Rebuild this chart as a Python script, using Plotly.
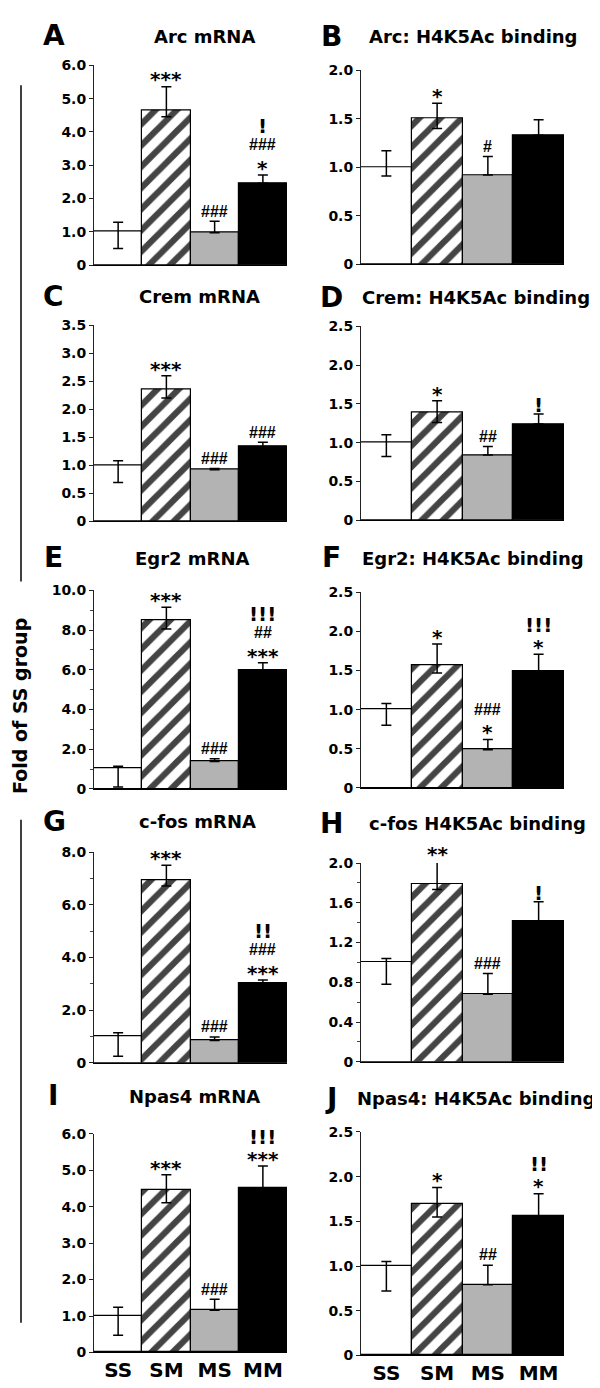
import plotly.graph_objects as go

# ---------------- data ----------------
groups = ["SS", "SM", "MS", "MM"]

arc_mrna = [1.00, 4.66, 0.97, 2.46]
arc_mrna_up = [0.29, 0.70, 0.35, 0.25]
arc_mrna_dn = [0.50, 0.20, 0.0, 0.0]
arc_mrna_sig = [[], ["***"], ["###"], ["*", "###", "!"]]

arc_h4 = [1.00, 1.50, 0.92, 1.33]
arc_h4_up = [0.17, 0.16, 0.19, 0.16]
arc_h4_dn = [0.09, 0.10, 0.0, 0.0]
arc_h4_sig = [[], ["*"], ["#"], []]

crem_mrna = [1.00, 2.35, 0.92, 1.33]
crem_mrna_up = [0.08, 0.25, 0.02, 0.08]
crem_mrna_dn = [0.31, 0.15, 0.0, 0.0]
crem_mrna_sig = [[], ["***"], ["###"], ["###"]]

crem_h4 = [1.00, 1.39, 0.84, 1.24]
crem_h4_up = [0.10, 0.15, 0.11, 0.13]
crem_h4_dn = [0.18, 0.13, 0.0, 0.0]
crem_h4_sig = [[], ["*"], ["##"], ["!"]]

egr2_mrna = [1.05, 8.50, 1.38, 5.97]
egr2_mrna_up = [0.09, 0.65, 0.14, 0.38]
egr2_mrna_dn = [0.95, 0.45, 0.0, 0.0]
egr2_mrna_sig = [[], ["***"], ["###"], ["***", "##", "!!!"]]

egr2_h4 = [1.00, 1.57, 0.49, 1.49]
egr2_h4_up = [0.08, 0.27, 0.13, 0.22]
egr2_h4_dn = [0.20, 0.10, 0.0, 0.0]
egr2_h4_sig = [[], ["*"], ["*", "###"], ["*", "!!!"]]

cfos_mrna = [1.00, 6.95, 0.85, 3.02]
cfos_mrna_up = [0.14, 0.56, 0.13, 0.13]
cfos_mrna_dn = [0.75, 0.23, 0.0, 0.0]
cfos_mrna_sig = [[], ["***"], ["###"], ["***", "###", "!!"]]

cfos_h4 = [1.00, 1.785, 0.68, 1.415]
cfos_h4_up = [0.04, 0.235, 0.21, 0.195]
cfos_h4_dn = [0.22, 0.05, 0.0, 0.0]
cfos_h4_sig = [[], ["**"], ["###"], ["!"]]

npas4_mrna = [1.00, 4.45, 1.16, 4.52]
npas4_mrna_up = [0.24, 0.43, 0.30, 0.60]
npas4_mrna_dn = [0.53, 0.34, 0.0, 0.0]
npas4_mrna_sig = [[], ["***"], ["###"], ["***", "!!!"]]

npas4_h4 = [1.00, 1.69, 0.79, 1.56]
npas4_h4_up = [0.05, 0.19, 0.22, 0.25]
npas4_h4_dn = [0.28, 0.14, 0.0, 0.0]
npas4_h4_sig = [[], ["*"], ["##"], ["*", "!!"]]

ticks_0_6 = [0, 1, 2, 3, 4, 5, 6]
ticks_0_6_text = ["0", "1.0", "2.0", "3.0", "4.0", "5.0", "6.0"]
ticks_0_2 = [0, 0.5, 1.0, 1.5, 2.0]
ticks_0_2_text = ["0", "0.5", "1.0", "1.5", "2.0"]
ticks_0_35 = [0, 0.5, 1.0, 1.5, 2.0, 2.5, 3.0, 3.5]
ticks_0_35_text = ["0", "0.5", "1.0", "1.5", "2.0", "2.5", "3.0", "3.5"]
ticks_0_25 = [0, 0.5, 1.0, 1.5, 2.0, 2.5]
ticks_0_25_text = ["0", "0.5", "1.0", "1.5", "2.0", "2.5"]
ticks_0_10 = [0, 2, 4, 6, 8, 10]
ticks_0_10_text = ["0", "2.0", "4.0", "6.0", "8.0", "10.0"]
ticks_0_8 = [0, 2, 4, 6, 8]
ticks_0_8_text = ["0", "2.0", "4.0", "6.0", "8.0"]
ticks_h = [0, 0.4, 0.8, 1.2, 1.6, 2.0]
ticks_h_text = ["0", "0.4", "0.8", "1.2", "1.6", "2.0"]

# ---------------- layout config ----------------
W, H = 600, 1388
FONT = "DejaVu Sans"
LEFT = (86, 279)
RIGHT = (353, 556)

panels = [
    # letter, title, mean, up, dn, sig, tickvals, ticktext, minor dtick, xpx, ypx(top,bottom), letter pos, title pos
    ("A", "Arc mRNA", arc_mrna, arc_mrna_up, arc_mrna_dn, arc_mrna_sig, ticks_0_6, ticks_0_6_text, None, LEFT, (50, 252), (46, 20), (196, 21)),
    ("B", "Arc: H4K5Ac binding", arc_h4, arc_h4_up, arc_h4_dn, arc_h4_sig, ticks_0_2, ticks_0_2_text, None, RIGHT, (55, 251), (323, 21), (465, 21)),
    ("C", "Crem mRNA", crem_mrna, crem_mrna_up, crem_mrna_dn, crem_mrna_sig, ticks_0_35, ticks_0_35_text, None, LEFT, (313, 511), (45, 284), (191, 284)),
    ("D", "Crem: H4K5Ac binding", crem_h4, crem_h4_up, crem_h4_dn, crem_h4_sig, ticks_0_25, ticks_0_25_text, None, RIGHT, (314, 510), (323, 285), (468, 285)),
    ("E", "Egr2 mRNA", egr2_mrna, egr2_mrna_up, egr2_mrna_dn, egr2_mrna_sig, ticks_0_10, ticks_0_10_text, 1, LEFT, (581, 782), (45, 548), (184, 549)),
    ("F", "Egr2: H4K5Ac binding", egr2_h4, egr2_h4_up, egr2_h4_dn, egr2_h4_sig, ticks_0_25, ticks_0_25_text, None, RIGHT, (583, 781), (323, 548), (465, 549)),
    ("G", "c-fos mRNA", cfos_mrna, cfos_mrna_up, cfos_mrna_dn, cfos_mrna_sig, ticks_0_8, ticks_0_8_text, 1, LEFT, (846, 1059), (46, 815), (189, 815)),
    ("H", "c-fos H4K5Ac binding", cfos_h4, cfos_h4_up, cfos_h4_dn, cfos_h4_sig, ticks_h, ticks_h_text, 0.2, RIGHT, (857, 1058), (323, 817), (469, 817)),
    ("I", "Npas4 mRNA", npas4_mrna, npas4_mrna_up, npas4_mrna_dn, npas4_mrna_sig, ticks_0_6, ticks_0_6_text, None, LEFT, (1131, 1352), (45, 1092), (186, 1093)),
    ("J", "Npas4: H4K5Ac binding", npas4_h4, npas4_h4_up, npas4_h4_dn, npas4_h4_sig, ticks_0_25, ticks_0_25_text, None, RIGHT, (1129, 1355), (323, 1095), (468, 1095)),
]

colors = ["white", "white", "#b3b3b3", "black"]
shapes = ["", "/", "", ""]


def fx(p):
    return p / W


def fy(p):
    return 1 - p / H


fig = go.Figure()
annotations = []

for i, (letter, title, mean, up, dn, sig, tv, tt, minor, xpx, ypx, lpos, tpos) in enumerate(panels):
    n = "" if i == 0 else str(i + 1)
    fig.add_trace(go.Bar(
        x=list(range(len(groups))), y=mean, xaxis="x" + n, yaxis="y" + n, width=1,
        marker=dict(color=colors, line=dict(color="black", width=1.2),
                    pattern=dict(shape=shapes, fgcolor="black", bgcolor="white", fgopacity=1,
                                 size=15, solidity=0.42)),
        error_y=dict(type="data", symmetric=False, array=up, arrayminus=dn,
                     color="black", thickness=1.5, width=5),
        cliponaxis=False, showlegend=False, hoverinfo="skip",
    ))
    bottom = i >= 8
    fig.layout["xaxis" + n] = dict(
        domain=[fx(xpx[0]), fx(xpx[1])], anchor="y" + n, range=[-0.5, 3.5],
        showline=True, linecolor="black", linewidth=1, showgrid=False, zeroline=False,
        tickvals=list(range(len(groups))), ticktext=groups, showticklabels=bottom, ticks="",
        tickfont=dict(family=FONT, size=20, color="black", weight="bold"), fixedrange=True,
    )
    ya = dict(
        domain=[fy(ypx[1]), fy(ypx[0])], anchor="x" + n, range=[0, tv[-1]],
        showline=True, linecolor="#222", linewidth=1, showgrid=False, zeroline=False,
        tickvals=tv, ticktext=tt, ticks="outside", ticklen=4, tickcolor="#222",
        tickfont=dict(family=FONT, size=14, color="black", weight="bold"), fixedrange=True,
    )
    if minor:
        ya["minor"] = dict(dtick=minor, tick0=0, ticks="outside", ticklen=3, tickcolor="#444", showgrid=False)
    fig.layout["yaxis" + n] = ya

    # panel letter and title
    annotations.append(dict(x=fx(lpos[0]), y=fy(lpos[1]), xref="paper", yref="paper", text=letter,
                            showarrow=False, xanchor="center", yanchor="middle",
                            font=dict(family=FONT, size=28, color="black", weight="bold")))
    annotations.append(dict(x=fx(tpos[0]), y=fy(tpos[1]), xref="paper", yref="paper", text=title,
                            showarrow=False, xanchor="center", yanchor="middle",
                            font=dict(family=FONT, size=18, color="black", weight="bold")))

    # significance marks stacked above error bars (anchored at bar top, shifted by error size in px)
    px_per_unit = (ypx[1] - ypx[0]) / tv[-1]
    for j, labels in enumerate(sig):
        center = 11 + up[j] * px_per_unit
        for lab in labels:
            if lab.startswith("*"):
                f = dict(family=FONT, size=20, color="black", weight="bold")
                adj = 4
            elif lab.startswith("#"):
                f = dict(family="Liberation Sans", size=16, color="black", weight="bold")
                adj = 1
            else:
                f = dict(family=FONT, size=20, color="black", weight="bold")
                adj = 2
            annotations.append(dict(x=j, y=mean[j], xref="x" + n, yref="y" + n, text=lab,
                                    showarrow=False, xanchor="center", yanchor="middle",
                                    yshift=center - adj, font=f))
            center += 20

# y-axis common label
annotations.append(dict(x=fx(12), y=fy(698), xref="paper", yref="paper", text="Fold of SS group",
                        textangle=-90, showarrow=False, xanchor="center", yanchor="middle",
                        font=dict(family=FONT, size=19, color="black", weight="bold")))

shapes_list = [
    dict(type="line", xref="paper", yref="paper", x0=fx(13), x1=fx(13), y0=fy(70), y1=fy(572),
         line=dict(color="black", width=1.5)),
    dict(type="line", xref="paper", yref="paper", x0=fx(13), x1=fx(13), y0=fy(813), y1=fy(1322),
         line=dict(color="black", width=1.5)),
]

fig.update_layout(
    width=W, height=H, margin=dict(l=0, r=0, t=0, b=0),
    paper_bgcolor="white", plot_bgcolor="white", bargap=0,
    annotations=annotations, shapes=shapes_list, showlegend=False,
)

fig.write_html("out.html")
